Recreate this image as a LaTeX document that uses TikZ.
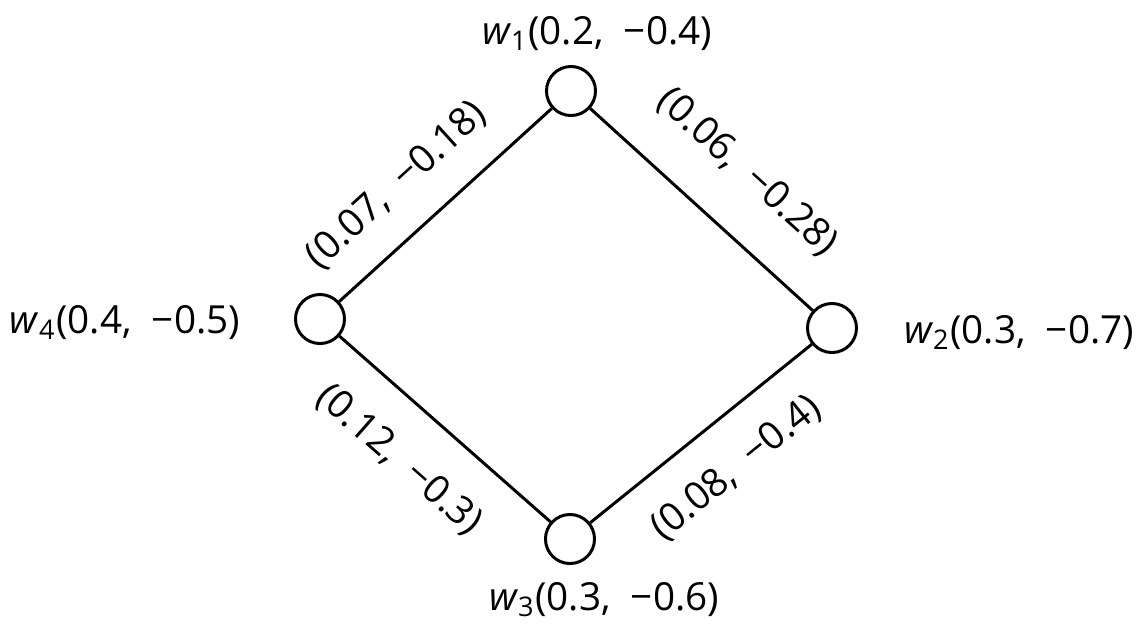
\documentclass[tikz,border=0pt]{standalone}
\usepackage{fontspec}
\setmainfont{Open Sans}

\begin{document}
\begin{tikzpicture}[x=0.01cm,y=-0.01cm,
    vtx/.style={circle,draw,line width=0.85pt,minimum size=0.49cm,inner sep=0pt},
    lbl/.style={font=\fontsize{11}{13}\selectfont,anchor=base,inner sep=0pt},
    wt/.style={font=\fontsize{11}{13}\selectfont,sloped},
    link/.style={line width=0.85pt}]
\useasboundingbox (0,0) rectangle (1144,632);
% vertices
\node[vtx] (w1) at (571,91) {};
\node[vtx] (w2) at (832,328) {};
\node[vtx] (w3) at (570,539) {};
\node[vtx] (w4) at (320,319) {};
% vertex labels
\node[lbl] (t1) at (597,44) {\textit{w}\textsubscript{1}(0.2,\ \ −0.4)};
\node[lbl] (t2) at (1019,343) {\textit{w}\textsubscript{2}(0.3,\ \ −0.7)};
\node[lbl] (t3) at (604,610) {\textit{w}\textsubscript{3}(0.3,\ \ −0.6)};
\node[lbl] (t4) at (125,333) {\textit{w}\textsubscript{4}(0.4,\ \ −0.5)};
% edges
\draw[link] (w4) -- node[wt,above=4.9pt,pos=0.42] {(0.07,\ \ −0.18)} (w1);
\draw[link] (w1) -- node[wt,above=8pt,pos=0.53] {(0.06,\ \ −0.28)} (w2);
\draw[link] (w4) -- node[wt,below=6.6pt,pos=0.45] {(0.12,\ \ −0.3)} (w3);
\draw[link] (w3) -- node[wt,below=5.4pt,pos=0.52] {(0.08,\ \ −0.4)} (w2);
\end{tikzpicture}
\end{document}
